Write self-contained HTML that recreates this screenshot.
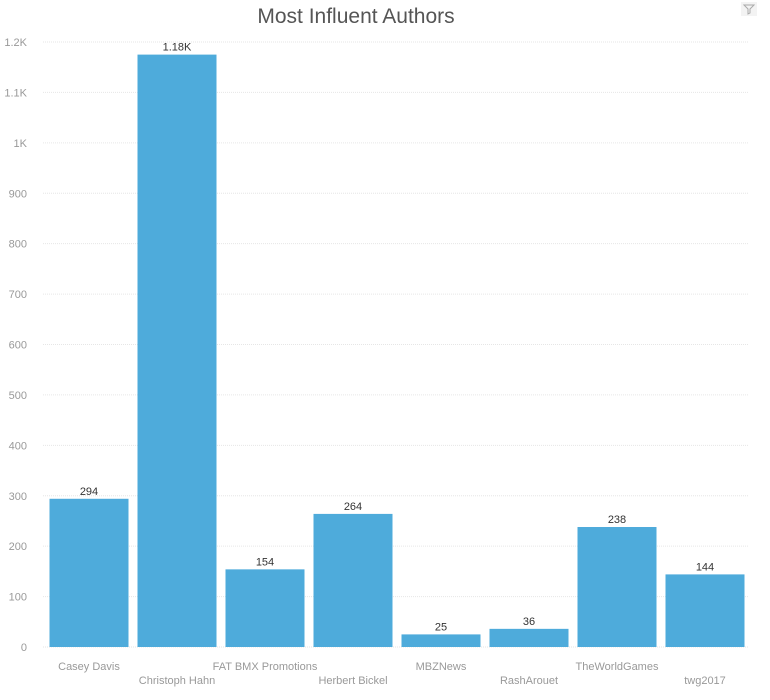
<!DOCTYPE html>
<html><head><meta charset="utf-8"><style>
body{margin:0;background:#fff;width:770px;height:695px;overflow:hidden;font-family:"Liberation Sans",sans-serif}
</style></head><body>
<svg id="chart" width="770" height="695" xmlns="http://www.w3.org/2000/svg">
<text x="356" y="23" text-anchor="middle" font-size="21" fill="#555" font-family="Liberation Sans, sans-serif">Most Influent Authors</text>
<g transform="translate(741,2)"><rect width="16" height="14" fill="#f3f3f3"/><path d="M3 3h10l-4 4v4l-2 1v-5z" fill="none" stroke="#aaa" stroke-width="1"/></g>
<g id="grid"></g><g id="bars"></g><g id="labels"></g>
</svg>
<script>
const categories=["Casey Davis","Christoph Hahn","FAT BMX Promotions","Herbert Bickel","MBZNews","RashArouet","TheWorldGames","twg2017"];
const values=[294,1175,154,264,25,36,238,144];
const valueLabels=["294","1.18K","154","264","25","36","238","144"];
const yTicks=[0,100,200,300,400,500,600,700,800,900,1000,1100,1200];
const yTickLabels=["0","100","200","300","400","500","600","700","800","900","1K","1.1K","1.2K"];
const NS="http://www.w3.org/2000/svg";
const x0=45,x1=749,yBase=647,yTop=42,yMax=1200;
const y=v=>yBase-(v/yMax)*(yBase-yTop);
const band=(x1-x0)/categories.length;
const xb=i=>x0+i*band;
function mk(t,a,p){const e=document.createElementNS(NS,t);for(const k in a)e.setAttribute(k,a[k]);p.appendChild(e);return e;}
const grid=document.getElementById('grid'),bars=document.getElementById('bars'),labels=document.getElementById('labels');
yTicks.forEach((t,i)=>{
 const l=mk('line',{x1:43,x2:x1,y1:y(t),y2:y(t),stroke:'#e6e6e6','stroke-dasharray':'1,1'},grid);
 
 
 const tx=mk('text',{x:27,y:y(t)+4,'text-anchor':'end','font-size':11,fill:'#999'},grid);
 tx.textContent=yTickLabels[i];
 
 
});
categories.forEach((c,i)=>{
 const bx=xb(i)+4.5,bw=band-9;
 const r=mk('rect',{x:bx,y:y(values[i]),width:bw,height:yBase-y(values[i]),fill:'#4eabdb'},bars);
 
 
 const vl=mk('text',{x:bx+bw/2,y:y(values[i])-4,'text-anchor':'middle','font-size':11,fill:'#333'},labels);
 vl.textContent=valueLabels[i];
 
 
 const cl=mk('text',{x:bx+bw/2,y:i%2?684:670,'text-anchor':'middle','font-size':11,fill:'#999'},labels);
 cl.textContent=c;
 
 
});
</script>
</body></html>
